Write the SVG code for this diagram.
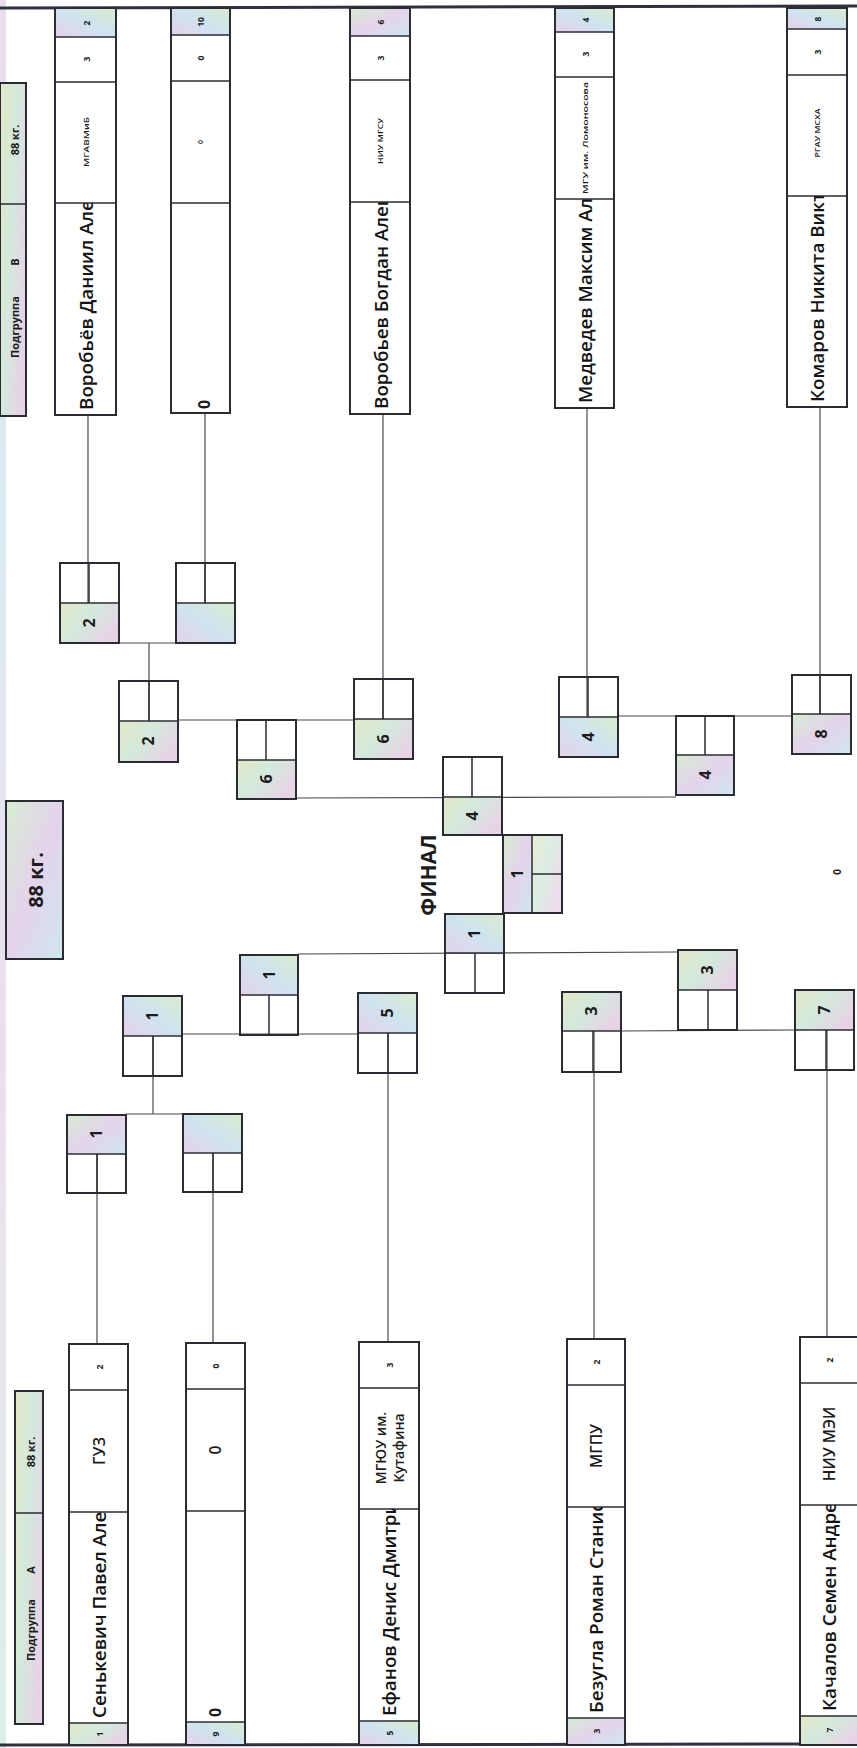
<svg xmlns="http://www.w3.org/2000/svg" width="857" height="1748" viewBox="0 0 857 1748">
<style>
text{font-family:"Open Sans","Liberation Sans",sans-serif;fill:#1c1c1c}
.c{text-anchor:middle;dominant-baseline:central}
.st{text-anchor:start;dominant-baseline:central}
.nm{font-size:18.8px;font-weight:600;fill:#141414}
.sm{font-size:8.5px;font-weight:bold}
.tiny{font-size:7px;font-weight:600}
.num{font-size:16px;font-weight:bold}
.lbl{font-size:11px;font-weight:bold}
.org{font-size:15.5px;font-weight:600}
.bx{fill:none;stroke:#2b2b33;stroke-width:2}
.dv{stroke:#2b2b33;stroke-width:1.5;fill:none}
.cn{stroke:#4a4a50;stroke-width:1.2;fill:none}
.wh{fill:#fff}
</style>
<defs>
<linearGradient id="g1" x1="0" y1="0" x2="1" y2="1">
<stop offset="0" stop-color="#d6ecd2"/><stop offset="0.5" stop-color="#e4d3ec"/><stop offset="1" stop-color="#cfe6ef"/>
</linearGradient>
<linearGradient id="g2" x1="0" y1="1" x2="1" y2="0">
<stop offset="0" stop-color="#e6d2ea"/><stop offset="0.5" stop-color="#cfe3f0"/><stop offset="1" stop-color="#d9eccf"/>
</linearGradient>
<linearGradient id="g3" x1="0" y1="0" x2="1" y2="0.6">
<stop offset="0" stop-color="#e3e8c8"/><stop offset="0.5" stop-color="#d3e9dc"/><stop offset="1" stop-color="#e8d3e6"/>
</linearGradient>
<linearGradient id="edge" x1="0" y1="0" x2="0" y2="1">
<stop offset="0" stop-color="#e7d4ea"/><stop offset="0.3" stop-color="#d2e6f0"/><stop offset="0.6" stop-color="#e9d6ea"/><stop offset="1" stop-color="#d3ebe0"/>
</linearGradient>
<clipPath id="cB1"><rect x="55" y="203" width="61" height="212"/></clipPath>
<clipPath id="cB3"><rect x="350" y="202" width="60" height="212"/></clipPath>
<clipPath id="cB4"><rect x="555" y="199" width="59" height="209"/></clipPath>
<clipPath id="cB5"><rect x="787" y="196" width="60" height="211"/></clipPath>
<clipPath id="cA1"><rect x="69" y="1512" width="59" height="211"/></clipPath>
<clipPath id="cA3"><rect x="359" y="1509" width="60" height="212"/></clipPath>
<clipPath id="cA4"><rect x="567" y="1507" width="58" height="211"/></clipPath>
<clipPath id="cA5"><rect x="800" y="1505" width="57" height="211"/></clipPath>
</defs>
<rect x="0" y="0" width="857" height="1748" fill="#fff"/>
<rect x="0" y="0" width="6" height="1748" fill="url(#edge)" opacity="0.8"/>
<line x1="0" y1="8" x2="857" y2="6" stroke="#2f3140" stroke-width="3"/>
<line x1="0" y1="1745" x2="857" y2="1744" stroke="#2f3140" stroke-width="3"/>

<g id="connectors">
<line class="cn" x1="88" y1="415" x2="88" y2="603"/>
<line class="cn" x1="205" y1="413" x2="205" y2="603"/>
<line class="cn" x1="119" y1="643" x2="176" y2="643"/>
<line class="cn" x1="149" y1="643" x2="149" y2="721"/>
<line class="cn" x1="383" y1="414" x2="383" y2="719"/>
<line class="cn" x1="587" y1="408" x2="587" y2="717"/>
<line class="cn" x1="820" y1="407" x2="820" y2="714"/>
<line class="cn" x1="178" y1="720" x2="354" y2="720"/>
<line class="cn" x1="618" y1="716" x2="792" y2="716"/>
<line class="cn" x1="296" y1="798" x2="676" y2="797"/>
<line class="cn" x1="97" y1="1344" x2="97" y2="1154"/>
<line class="cn" x1="213" y1="1343" x2="213" y2="1153"/>
<line class="cn" x1="126" y1="1114" x2="183" y2="1114"/>
<line class="cn" x1="153" y1="1114" x2="153" y2="1036"/>
<line class="cn" x1="388" y1="1342" x2="388" y2="1033"/>
<line class="cn" x1="594" y1="1339" x2="594" y2="1031"/>
<line class="cn" x1="827" y1="1337" x2="827" y2="1030"/>
<line class="cn" x1="182" y1="1034" x2="358" y2="1034"/>
<line class="cn" x1="621" y1="1031" x2="795" y2="1030"/>
<line class="cn" x1="298" y1="954" x2="678" y2="952"/>
</g>

<!-- labels -->
<g id="label-b">
<rect x="0" y="83" width="26" height="333" fill="url(#g3)"/>
<rect x="0" y="83" width="26" height="333" class="bx"/>
<line class="dv" x1="0" y1="204" x2="26" y2="204"/>
<text class="c lbl" transform="translate(14,140) rotate(-90)">88 кг.</text>
<text class="c lbl" transform="translate(14,327) rotate(-90)">Подгруппа</text>
<text class="c lbl" transform="translate(14,262) rotate(-90)">В</text>
</g>
<g id="label-a">
<rect x="15" y="1391" width="28" height="333" fill="url(#g3)"/>
<rect x="15" y="1391" width="28" height="333" class="bx"/>
<line class="dv" x1="15" y1="1513" x2="43" y2="1513"/>
<text class="c lbl" transform="translate(30,1452) rotate(-90)">88 кг.</text>
<text class="c lbl" transform="translate(30,1630) rotate(-90)">Подгруппа</text>
<text class="c lbl" transform="translate(30,1570) rotate(-90)">А</text>
</g>
<g id="label-main">
<rect x="6" y="801" width="57" height="158" fill="url(#g1)"/>
<rect x="6" y="801" width="57" height="158" class="bx"/>
<text class="c" font-size="20" font-weight="bold" transform="translate(35,880) rotate(-90)">88 кг.</text>
</g>
<g id="label-final">
<text class="c" font-size="21" font-weight="bold" transform="translate(428,875) rotate(-90)">ФИНАЛ</text>
</g>
<g id="stray-zero">
<text class="c" font-size="10" font-weight="bold" transform="translate(837,872) rotate(-90)">0</text>
</g>

<!-- players group B (top) -->
<g id="pB1">
<rect x="55" y="8" width="61" height="407" class="wh"/>
<rect x="55" y="8" width="61" height="29" fill="url(#g2)"/>
<rect x="55" y="8" width="61" height="407" class="bx"/>
<line class="dv" x1="55" y1="37" x2="116" y2="37"/><line class="dv" x1="55" y1="82" x2="116" y2="82"/><line class="dv" x1="55" y1="203" x2="116" y2="203"/>
<text class="c sm" transform="translate(86,23) rotate(-90)">2</text>
<text class="c sm" transform="translate(86,59) rotate(-90)">3</text>
<text class="c tiny" textLength="50" lengthAdjust="spacingAndGlyphs" transform="translate(86,142) rotate(-90)">МГАВМиБ</text>
<g clip-path="url(#cB1)"><text class="st nm" transform="translate(86,410) rotate(-90)">Воробьёв Даниил Алексеевич</text></g>
</g>
<g id="pB2">
<rect x="171" y="8" width="59" height="405" class="wh"/>
<rect x="171" y="8" width="59" height="27" fill="url(#g2)"/>
<rect x="171" y="8" width="59" height="405" class="bx"/>
<line class="dv" x1="171" y1="35" x2="230" y2="35"/><line class="dv" x1="171" y1="81" x2="230" y2="81"/><line class="dv" x1="171" y1="203" x2="230" y2="203"/>
<text class="c sm" transform="translate(200,22) rotate(-90)">10</text>
<text class="c sm" transform="translate(200,58) rotate(-90)">0</text>
<text class="c tiny" transform="translate(200,142) rotate(-90)">0</text>
<text class="st" font-size="16" font-weight="bold" transform="translate(204,409) rotate(-90)">0</text>
</g>
<g id="pB3">
<rect x="350" y="8" width="60" height="406" class="wh"/>
<rect x="350" y="8" width="60" height="28" fill="url(#g1)"/>
<rect x="350" y="8" width="60" height="406" class="bx"/>
<line class="dv" x1="350" y1="36" x2="410" y2="36"/><line class="dv" x1="350" y1="80" x2="410" y2="80"/><line class="dv" x1="350" y1="202" x2="410" y2="202"/>
<text class="c sm" transform="translate(380,22) rotate(-90)">6</text>
<text class="c sm" transform="translate(380,58) rotate(-90)">3</text>
<text class="c tiny" textLength="46" lengthAdjust="spacingAndGlyphs" transform="translate(380,141) rotate(-90)">НИУ МГСУ</text>
<g clip-path="url(#cB3)"><text class="st nm" transform="translate(381,409) rotate(-90)">Воробьев Богдан Алексеевич</text></g>
</g>
<g id="pB4">
<rect x="555" y="8" width="59" height="400" class="wh"/>
<rect x="555" y="8" width="59" height="24" fill="url(#g2)"/>
<rect x="555" y="8" width="59" height="400" class="bx"/>
<line class="dv" x1="555" y1="32" x2="614" y2="32"/><line class="dv" x1="555" y1="77" x2="614" y2="77"/><line class="dv" x1="555" y1="199" x2="614" y2="199"/>
<text class="c sm" transform="translate(585,20) rotate(-90)">4</text>
<text class="c sm" transform="translate(585,54) rotate(-90)">3</text>
<text class="c tiny" textLength="112" lengthAdjust="spacingAndGlyphs" transform="translate(585,138) rotate(-90)">МГУ им. Ломоносова</text>
<g clip-path="url(#cB4)"><text class="st nm" transform="translate(585,403) rotate(-90)">Медведев Максим Алексеевич</text></g>
</g>
<g id="pB5">
<rect x="787" y="8" width="60" height="399" class="wh"/>
<rect x="787" y="8" width="60" height="21" fill="url(#g2)"/>
<rect x="787" y="8" width="60" height="399" class="bx"/>
<line class="dv" x1="787" y1="29" x2="847" y2="29"/><line class="dv" x1="787" y1="75" x2="847" y2="75"/><line class="dv" x1="787" y1="196" x2="847" y2="196"/>
<text class="c sm" transform="translate(817,19) rotate(-90)">8</text>
<text class="c sm" transform="translate(817,52) rotate(-90)">3</text>
<text class="c tiny" textLength="49" lengthAdjust="spacingAndGlyphs" transform="translate(817,133) rotate(-90)">РГАУ МСХА</text>
<g clip-path="url(#cB5)"><text class="st nm" transform="translate(817,402) rotate(-90)">Комаров Никита Викторович</text></g>
</g>

<!-- players group A (bottom) -->
<g id="pA1">
<rect x="69" y="1344" width="59" height="401" class="wh"/>
<rect x="69" y="1723" width="59" height="22" fill="url(#g3)"/>
<rect x="69" y="1344" width="59" height="401" class="bx"/>
<line class="dv" x1="69" y1="1390" x2="128" y2="1390"/><line class="dv" x1="69" y1="1512" x2="128" y2="1512"/><line class="dv" x1="69" y1="1723" x2="128" y2="1723"/>
<text class="c sm" transform="translate(99,1367) rotate(-90)">2</text>
<text class="c org" transform="translate(99,1451) rotate(-90)">ГУЗ</text>
<g clip-path="url(#cA1)"><text class="st nm" transform="translate(99,1718) rotate(-90)">Сенькевич Павел Алексеевич</text></g>
<text class="c sm" transform="translate(99,1734) rotate(-90)">1</text>
</g>
<g id="pA2">
<rect x="186" y="1343" width="59" height="402" class="wh"/>
<rect x="186" y="1722" width="59" height="23" fill="url(#g2)"/>
<rect x="186" y="1343" width="59" height="402" class="bx"/>
<line class="dv" x1="186" y1="1389" x2="245" y2="1389"/><line class="dv" x1="186" y1="1511" x2="245" y2="1511"/><line class="dv" x1="186" y1="1722" x2="245" y2="1722"/>
<text class="c sm" transform="translate(215,1366) rotate(-90)">0</text>
<text class="c org" font-weight="bold" transform="translate(215,1450) rotate(-90)">0</text>
<text class="st" font-size="16" font-weight="bold" transform="translate(215,1717) rotate(-90)">0</text>
<text class="c sm" transform="translate(215,1734) rotate(-90)">9</text>
</g>
<g id="pA3">
<rect x="359" y="1342" width="60" height="403" class="wh"/>
<rect x="359" y="1721" width="60" height="24" fill="url(#g2)"/>
<rect x="359" y="1342" width="60" height="403" class="bx"/>
<line class="dv" x1="359" y1="1388" x2="419" y2="1388"/><line class="dv" x1="359" y1="1509" x2="419" y2="1509"/><line class="dv" x1="359" y1="1721" x2="419" y2="1721"/>
<text class="c sm" transform="translate(389,1365) rotate(-90)">3</text>
<text class="c" font-size="14" font-weight="600" transform="translate(380,1448) rotate(-90)">МГЮУ им.</text>
<text class="c" font-size="14" font-weight="600" transform="translate(398,1448) rotate(-90)">Кутафина</text>
<g clip-path="url(#cA3)"><text class="st nm" transform="translate(389,1716) rotate(-90)">Ефанов Денис Дмитриевич</text></g>
<text class="c sm" transform="translate(389,1733) rotate(-90)">5</text>
</g>
<g id="pA4">
<rect x="567" y="1339" width="58" height="406" class="wh"/>
<rect x="567" y="1718" width="58" height="27" fill="url(#g1)"/>
<rect x="567" y="1339" width="58" height="406" class="bx"/>
<line class="dv" x1="567" y1="1385" x2="625" y2="1385"/><line class="dv" x1="567" y1="1507" x2="625" y2="1507"/><line class="dv" x1="567" y1="1718" x2="625" y2="1718"/>
<text class="c sm" transform="translate(596,1362) rotate(-90)">2</text>
<text class="c org" transform="translate(596,1446) rotate(-90)">МГПУ</text>
<g clip-path="url(#cA4)"><text class="st nm" transform="translate(596,1713) rotate(-90)">Безугла Роман Станиславович</text></g>
<text class="c sm" transform="translate(596,1731) rotate(-90)">3</text>
</g>
<g id="pA5">
<rect x="800" y="1337" width="60" height="408" class="wh"/>
<rect x="800" y="1716" width="60" height="29" fill="url(#g3)"/>
<rect x="800" y="1337" width="60" height="408" class="bx"/>
<line class="dv" x1="800" y1="1383" x2="857" y2="1383"/><line class="dv" x1="800" y1="1505" x2="857" y2="1505"/><line class="dv" x1="800" y1="1716" x2="857" y2="1716"/>
<text class="c sm" transform="translate(829,1360) rotate(-90)">2</text>
<text class="c org" transform="translate(829,1444) rotate(-90)">НИУ МЭИ</text>
<g clip-path="url(#cA5)"><text class="st nm" transform="translate(829,1711) rotate(-90)">Качалов Семен Андреевич</text></g>
<text class="c sm" transform="translate(829,1730) rotate(-90)">7</text>
</g>

<!-- bracket boxes B side (white top, colored bottom) -->
<g id="bB-r1a">
<rect x="60" y="603" width="59" height="40" fill="url(#g3)"/>
<rect x="60" y="563" width="59" height="80" class="bx"/>
<line class="dv" x1="60" y1="603" x2="119" y2="603"/><line class="dv" x1="89" y1="563" x2="89" y2="603"/>
<text class="c num" transform="translate(89,623) rotate(-90)">2</text>
</g>
<g id="bB-r1b">
<rect x="176" y="603" width="59" height="40" fill="url(#g2)"/>
<rect x="176" y="563" width="59" height="80" class="bx"/>
<line class="dv" x1="176" y1="603" x2="235" y2="603"/><line class="dv" x1="205" y1="563" x2="205" y2="603"/>
</g>
<g id="bB-qf1">
<rect x="119" y="721" width="59" height="41" fill="url(#g3)"/>
<rect x="119" y="681" width="59" height="81" class="bx"/>
<line class="dv" x1="119" y1="721" x2="178" y2="721"/><line class="dv" x1="149" y1="681" x2="149" y2="721"/>
<text class="c num" transform="translate(148,741) rotate(-90)">2</text>
</g>
<g id="bB-qf2">
<rect x="354" y="719" width="59" height="40" fill="url(#g3)"/>
<rect x="354" y="679" width="59" height="80" class="bx"/>
<line class="dv" x1="354" y1="719" x2="413" y2="719"/><line class="dv" x1="383" y1="679" x2="383" y2="719"/>
<text class="c num" transform="translate(383,739) rotate(-90)">6</text>
</g>
<g id="bB-qf3">
<rect x="559" y="717" width="59" height="40" fill="url(#g2)"/>
<rect x="559" y="677" width="59" height="80" class="bx"/>
<line class="dv" x1="559" y1="717" x2="618" y2="717"/><line class="dv" x1="588" y1="677" x2="588" y2="717"/>
<text class="c num" transform="translate(588,737) rotate(-90)">4</text>
</g>
<g id="bB-qf4">
<rect x="792" y="714" width="59" height="40" fill="url(#g1)"/>
<rect x="792" y="675" width="59" height="79" class="bx"/>
<line class="dv" x1="792" y1="714" x2="851" y2="714"/><line class="dv" x1="820" y1="675" x2="820" y2="714"/>
<text class="c num" transform="translate(821,734) rotate(-90)">8</text>
</g>
<g id="bB-sf1">
<rect x="237" y="760" width="59" height="39" fill="url(#g3)"/>
<rect x="237" y="720" width="59" height="79" class="bx"/>
<line class="dv" x1="237" y1="760" x2="296" y2="760"/><line class="dv" x1="266" y1="720" x2="266" y2="760"/>
<text class="c num" transform="translate(266,779) rotate(-90)">6</text>
</g>
<g id="bB-sf2">
<rect x="676" y="755" width="58" height="40" fill="url(#g1)"/>
<rect x="676" y="716" width="58" height="79" class="bx"/>
<line class="dv" x1="676" y1="755" x2="734" y2="755"/><line class="dv" x1="705" y1="716" x2="705" y2="755"/>
<text class="c num" transform="translate(705,775) rotate(-90)">4</text>
</g>
<g id="bB-final">
<rect x="443" y="797" width="59" height="38" fill="url(#g3)"/>
<rect x="443" y="757" width="59" height="78" class="bx"/>
<line class="dv" x1="443" y1="797" x2="502" y2="797"/><line class="dv" x1="472" y1="757" x2="472" y2="797"/>
<text class="c num" transform="translate(472,816) rotate(-90)">4</text>
</g>

<!-- bracket boxes A side (colored top, white bottom) -->
<g id="bA-r1a">
<rect x="67" y="1115" width="59" height="39" fill="url(#g1)"/>
<rect x="67" y="1115" width="59" height="78" class="bx"/>
<line class="dv" x1="67" y1="1154" x2="126" y2="1154"/><line class="dv" x1="97" y1="1154" x2="97" y2="1193"/>
<text class="c num" transform="translate(96,1134) rotate(-90)">1</text>
</g>
<g id="bA-r1b">
<rect x="183" y="1114" width="59" height="39" fill="url(#g2)"/>
<rect x="183" y="1114" width="59" height="78" class="bx"/>
<line class="dv" x1="183" y1="1153" x2="242" y2="1153"/><line class="dv" x1="213" y1="1153" x2="213" y2="1192"/>
</g>
<g id="bA-qf1">
<rect x="123" y="996" width="59" height="40" fill="url(#g2)"/>
<rect x="123" y="996" width="59" height="80" class="bx"/>
<line class="dv" x1="123" y1="1036" x2="182" y2="1036"/><line class="dv" x1="153" y1="1036" x2="153" y2="1076"/>
<text class="c num" transform="translate(152,1016) rotate(-90)">1</text>
</g>
<g id="bA-qf2">
<rect x="358" y="993" width="59" height="40" fill="url(#g2)"/>
<rect x="358" y="993" width="59" height="80" class="bx"/>
<line class="dv" x1="358" y1="1033" x2="417" y2="1033"/><line class="dv" x1="388" y1="1033" x2="388" y2="1073"/>
<text class="c num" transform="translate(387,1013) rotate(-90)">5</text>
</g>
<g id="bA-qf3">
<rect x="562" y="992" width="59" height="39" fill="url(#g3)"/>
<rect x="562" y="992" width="59" height="80" class="bx"/>
<line class="dv" x1="562" y1="1031" x2="621" y2="1031"/><line class="dv" x1="593" y1="1031" x2="593" y2="1072"/>
<text class="c num" transform="translate(591,1011) rotate(-90)">3</text>
</g>
<g id="bA-qf4">
<rect x="795" y="990" width="59" height="40" fill="url(#g3)"/>
<rect x="795" y="990" width="59" height="80" class="bx"/>
<line class="dv" x1="795" y1="1030" x2="854" y2="1030"/><line class="dv" x1="826" y1="1030" x2="826" y2="1070"/>
<text class="c num" transform="translate(824,1010) rotate(-90)">7</text>
</g>
<g id="bA-sf1">
<rect x="240" y="955" width="58" height="40" fill="url(#g2)"/>
<rect x="240" y="955" width="58" height="80" class="bx"/>
<line class="dv" x1="240" y1="995" x2="298" y2="995"/><line class="dv" x1="269" y1="995" x2="269" y2="1035"/>
<text class="c num" transform="translate(269,975) rotate(-90)">1</text>
</g>
<g id="bA-sf2">
<rect x="678" y="950" width="59" height="40" fill="url(#g3)"/>
<rect x="678" y="950" width="59" height="80" class="bx"/>
<line class="dv" x1="678" y1="990" x2="737" y2="990"/><line class="dv" x1="708" y1="990" x2="708" y2="1030"/>
<text class="c num" transform="translate(707,970) rotate(-90)">3</text>
</g>
<g id="bA-final">
<rect x="445" y="914" width="59" height="39" fill="url(#g2)"/>
<rect x="445" y="914" width="59" height="79" class="bx"/>
<line class="dv" x1="445" y1="953" x2="504" y2="953"/><line class="dv" x1="475" y1="953" x2="475" y2="993"/>
<text class="c num" transform="translate(474,934) rotate(-90)">1</text>
</g>

<!-- champion box -->
<g id="champion">
<rect x="503" y="835" width="29" height="78" fill="url(#g1)"/>
<rect x="532" y="835" width="30" height="78" fill="url(#g3)" opacity="0.8"/>
<rect x="503" y="835" width="59" height="78" class="bx"/>
<line class="dv" x1="532" y1="835" x2="532" y2="913"/><line class="dv" x1="532" y1="874" x2="562" y2="874"/>
<text class="c num" transform="translate(517,874) rotate(-90)">1</text>
</g>
</svg>
